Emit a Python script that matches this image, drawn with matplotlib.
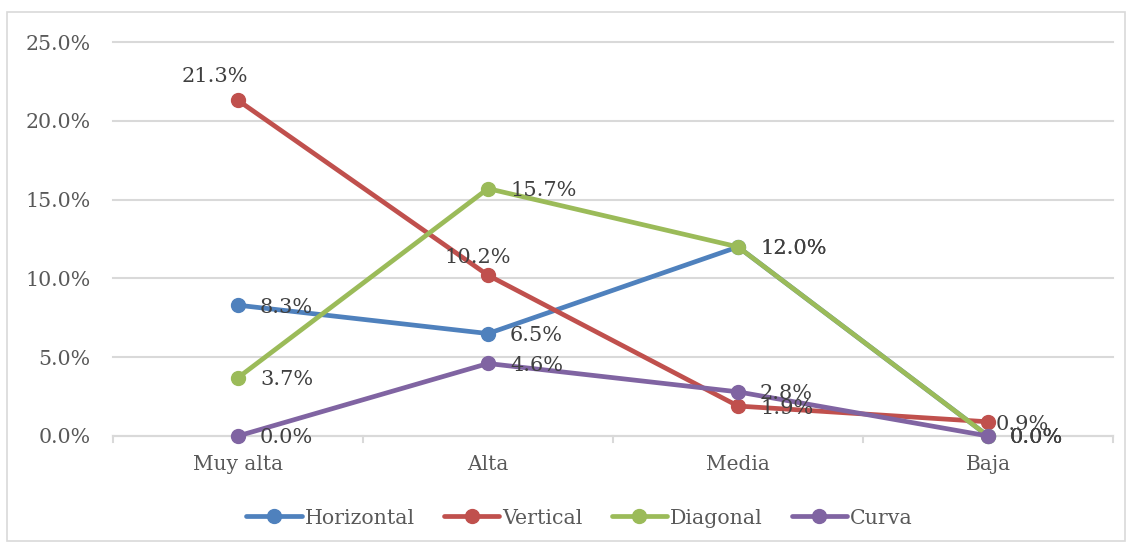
import matplotlib
matplotlib.use('Agg')
import matplotlib.pyplot as plt
from matplotlib.patches import Rectangle

# Datos del gráfico
categorias = ['Muy alta', 'Alta', 'Media', 'Baja']
horizontal = [8.3, 6.5, 12.0, 0.0]
vertical = [21.3, 10.2, 1.9, 0.9]
diagonal = [3.7, 15.7, 12.0, 0.0]
curva = [0.0, 4.6, 2.8, 0.0]
nombres = ['Horizontal', 'Vertical', 'Diagonal', 'Curva']
ticks_y = [0, 5, 10, 15, 20, 25]

plt.rcParams['font.family'] = ['DejaVu Serif']

colores = ['#4F81BD', '#C0504D', '#9BBB59', '#8064A2']
series = [horizontal, vertical, diagonal, curva]

# Desplazamientos de las etiquetas (pixeles), por defecto a la derecha
desplaz = {
    (1, 0): (-23, 14, 'center', 'bottom'),
    (1, 1): (-10, 8, 'center', 'bottom'),
    (1, 3): (8, -3, 'left', 'center'),
}

fig = plt.figure(figsize=(11.3, 5.46), dpi=100)
ax = fig.add_axes([0.1, 0.2015, 0.885, 0.7215])

x = list(range(len(categorias)))
for s, (vals, nom, col) in enumerate(zip(series, nombres, colores)):
    ax.plot(x, vals, color=col, lw=3.4, marker='o', markersize=10,
            label=nom, clip_on=False, zorder=3 + s, solid_capstyle='round')
    for i, v in enumerate(vals):
        dx, dy, ha, va = desplaz.get((s, i), (22, -2, 'left', 'center'))
        ax.annotate(f'{v:.1f}%', (i, v), xytext=(dx, dy), textcoords='offset pixels',
                    ha=ha, va=va, fontsize=15, color='#404040', zorder=10)

ax.set_xlim(-0.5, 3.5)
ax.set_ylim(0, 25)
ax.set_yticks(ticks_y)
ax.set_yticklabels([f'{t:.1f}%' for t in ticks_y], fontsize=14.8, color='#595959')
ax.set_xticks(x)
ax.set_xticklabels(categorias, fontsize=14.5, color='#595959')
ax.tick_params(axis='y', length=0, pad=16)
ax.tick_params(axis='x', length=0, pad=14)

# Marcas entre categorías
for b in [-0.5, 0.5, 1.5, 2.5, 3.5]:
    ax.plot([b, b], [0, -0.4], color='#D9D9D9', lw=1.5, clip_on=False, zorder=1)

ax.grid(axis='y', color='#D9D9D9', lw=1.5)
ax.set_axisbelow(True)
for lado in ['top', 'right', 'left']:
    ax.spines[lado].set_visible(False)
ax.spines['bottom'].set_color('#D9D9D9')
ax.spines['bottom'].set_linewidth(1.5)
for gl in ax.get_ygridlines():
    gl.set_clip_on(False)

fig.legend(loc='center', bbox_to_anchor=(0.513, 0.051), ncol=4, frameon=False,
           fontsize=14.8, handlelength=2.7, columnspacing=1.4, handletextpad=0.15,
           labelcolor='#595959')

fig.patches.append(Rectangle((0.006, 0.009), 0.99, 0.969, transform=fig.transFigure,
                             fill=False, edgecolor='#D9D9D9', lw=1.2))

fig.savefig('out.png', dpi=100)
